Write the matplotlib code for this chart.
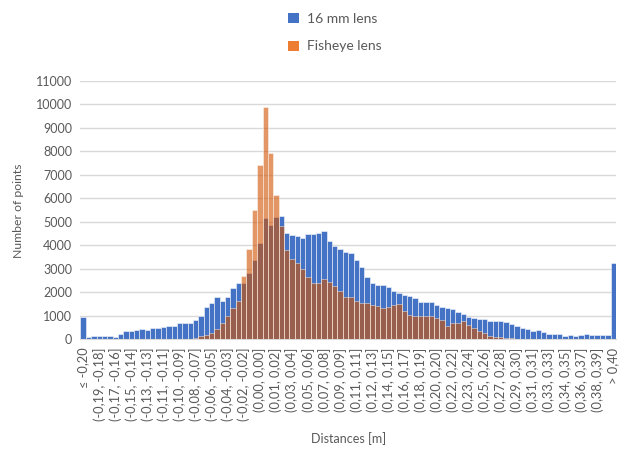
import numpy as np
import matplotlib
matplotlib.use("Agg")
import matplotlib.pyplot as plt
from matplotlib.patches import Patch

plt.rcParams['font.family'] = ['Lato', 'DejaVu Sans']

series_names = ["16 mm lens", "Fisheye lens"]

tick_labels = ["≤ -0,20", "(-0,19, -0,18]", "(-0,17, -0,16]", "(-0,15, -0,14]", "(-0,13, -0,13]",
               "(-0,11, -0,11]", "(-0,10, -0,09]", "(-0,08, -0,07]", "(-0,06, -0,05]", "(-0,04, -0,03]",
               "(-0,02, -0,02]", "(0,00, 0,00]", "(0,01, 0,02]", "(0,03, 0,04]", "(0,05, 0,06]",
               "(0,07, 0,08]", "(0,09, 0,09]", "(0,11, 0,11]", "(0,12, 0,13]", "(0,14, 0,15]",
               "(0,16, 0,17]", "(0,18, 0,19]", "(0,20, 0,20]", "(0,22, 0,22]", "(0,23, 0,24]",
               "(0,25, 0,26]", "(0,27, 0,28]", "(0,29, 0,30]", "(0,31, 0,31]", "(0,33, 0,33]",
               "(0,34, 0,35]", "(0,36, 0,37]", "(0,38, 0,39]", "> 0,40"]

lens16 = [970, 80, 130, 130, 130, 130, 90, 230, 340, 370,
          400, 430, 400, 490, 490, 510, 570, 570, 680, 680,
          710, 820, 990, 1360, 1530, 1790, 1650, 1815, 2170, 2400,
          2410, 2840, 3380, 4090, 5180, 4850, 5200, 5250, 4510, 4420,
          4400, 4300, 4470, 4470, 4540, 4610, 4180, 3970, 3840, 3730,
          3660, 3360, 3060, 2670, 2410, 2300, 2300, 2240, 2070, 1960,
          1880, 1840, 1770, 1600, 1575, 1575, 1460, 1390, 1320, 1280,
          1150, 1060, 965, 920, 880, 850, 800, 780, 780, 750,
          650, 560, 500, 440, 370, 400, 330, 240, 240, 210,
          140, 170, 140, 170, 210, 170, 170, 170, 170, 3250]

fisheye = [0, 0, 0, 0, 0, 0, 0, 0, 0, 0,
           0, 0, 0, 0, 0, 0, 0, 0, 0, 0,
           0, 70, 150, 200, 270, 430, 680, 1000, 1320, 1650,
           2700, 3830, 5500, 7420, 9880, 7940, 6160, 4800, 3800, 3400,
           3230, 3000, 2670, 2400, 2400, 2560, 2430, 2250, 2050, 1790,
           1790, 1620, 1530, 1530, 1480, 1420, 1330, 1360, 1450, 1490,
           1220, 1020, 1000, 1000, 1000, 1000, 890, 820, 570, 680,
           680, 780, 600, 470, 355, 285, 140, 115, 85, 55,
           45, 30, 0, 0, 0, 0, 0, 0, 0, 0,
           0, 0, 0, 0, 0, 0, 0, 0, 0, 0]

blue = "#4472C4"
orange_solid = "#ED7D31"
orange_overlay = (0.82, 0.32, 0.0, 0.6)

fig = plt.figure(figsize=(6.24, 4.49), dpi=100)
ax = fig.add_axes([0.129, 0.2443, 0.858, 0.5759])

x = np.arange(len(lens16))
ax.bar(x, lens16, width=1.0, color=blue, edgecolor=(1, 1, 1, 0.6), linewidth=0.6, zorder=2)
ax.bar(x, fisheye, width=1.0, color=orange_overlay, edgecolor=(1, 1, 1, 0.5), linewidth=0.6, zorder=3)

ax.set_xlim(-0.5, len(lens16) - 0.5)
ax.set_ylim(0, 11000)
ax.set_yticks(np.arange(0, 11001, 1000))
ax.yaxis.grid(True, color="#D9D9D9", linewidth=1.0, zorder=0)
ax.set_axisbelow(True)

tick_pos = np.arange(0, len(lens16), 3)
ax.set_xticks(tick_pos)
ax.set_xticklabels(tick_labels, rotation=90, fontsize=9.3, color="#595959")
ax.tick_params(axis='x', length=0, pad=6)
ax.tick_params(axis='y', length=0, labelsize=9, labelcolor="#595959", pad=6)

for s in ['top', 'right', 'left']:
    ax.spines[s].set_visible(False)
ax.spines['bottom'].set_color("#D9D9D9")

fig.text(0.029, 0.53, "Number of points", rotation=90, ha='center', va='center',
         fontsize=8.8, color="#595959")
fig.text(0.558, 0.024, "Distances [m]", ha='center', va='center', fontsize=9, color="#595959")

handles = [Patch(facecolor=blue, edgecolor='none'), Patch(facecolor=orange_solid, edgecolor='none')]
fig.legend(handles, series_names, loc='upper center', bbox_to_anchor=(0.537, 1.0), frameon=False,
           fontsize=10, labelcolor="#595959", handlelength=0.75, handleheight=0.75,
           handletextpad=0.6, labelspacing=1.15)

fig.savefig("out.png", dpi=100)
